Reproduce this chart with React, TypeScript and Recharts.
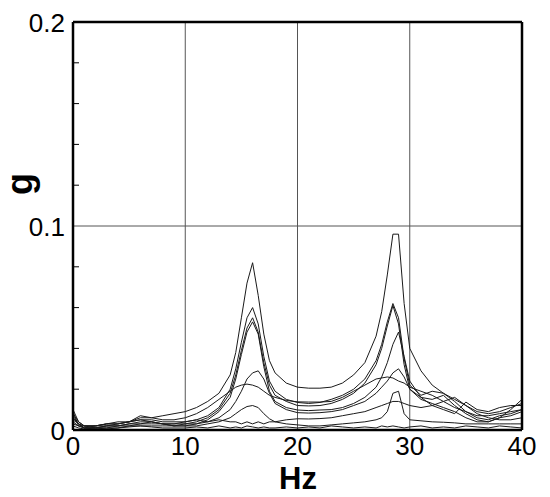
import React from 'react'
import { LineChart, Line, XAxis, YAxis, CartesianGrid, ReferenceLine } from 'recharts'

// frequency points (Hz), finer around the two peaks
const freq = [
  0, 0.5, 1, 2, 3, 4, 5, 6, 7, 8, 9, 10, 11, 12, 13, 14, 14.5, 15, 15.5, 16, 16.5, 17, 17.5, 18,
  19, 20, 21, 22, 23, 24, 25, 26, 27, 27.5, 28, 28.5, 29, 29.5, 30, 31, 32, 33, 34, 35, 36, 37, 38, 39, 40,
]

// amplitude in g for each record
const s1 = [
  0.008, 0.004, 0.002, 0.002, 0.003, 0.003, 0.004, 0.006, 0.006, 0.007, 0.008, 0.009, 0.011, 0.014, 0.018, 0.027, 0.038, 0.055, 0.072, 0.082, 0.066, 0.047, 0.034, 0.028,
  0.023, 0.021, 0.0205, 0.0205, 0.021, 0.023, 0.027, 0.033, 0.046, 0.058, 0.076, 0.096, 0.096, 0.062, 0.04, 0.029, 0.022, 0.018, 0.015, 0.012, 0.009, 0.008, 0.009, 0.011, 0.013,
]
const s2 = [
  0.006, 0.003, 0.001, 0.002, 0.002, 0.003, 0.004, 0.005, 0.005, 0.004, 0.004, 0.004, 0.005, 0.007, 0.011, 0.02, 0.03, 0.043, 0.055, 0.06, 0.052, 0.036, 0.024, 0.019,
  0.015, 0.0135, 0.013, 0.0135, 0.015, 0.017, 0.02, 0.025, 0.034, 0.042, 0.053, 0.062, 0.055, 0.035, 0.022, 0.017, 0.019, 0.018, 0.014, 0.009, 0.006, 0.005, 0.007, 0.008, 0.01,
]
const s3 = [
  0.009, 0.002, 0.002, 0.001, 0.002, 0.002, 0.003, 0.004, 0.004, 0.003, 0.003, 0.003, 0.004, 0.006, 0.01, 0.018, 0.027, 0.039, 0.05, 0.055, 0.048, 0.033, 0.022, 0.017,
  0.014, 0.012, 0.0118, 0.012, 0.013, 0.015, 0.018, 0.023, 0.032, 0.04, 0.051, 0.061, 0.052, 0.032, 0.02, 0.016, 0.015, 0.017, 0.012, 0.008, 0.005, 0.004, 0.006, 0.007, 0.009,
]
const s4 = [
  0.005, 0.003, 0.001, 0.001, 0.001, 0.002, 0.003, 0.003, 0.004, 0.003, 0.002, 0.003, 0.003, 0.005, 0.009, 0.016, 0.025, 0.037, 0.048, 0.053, 0.047, 0.031, 0.019, 0.014,
  0.011, 0.0098, 0.0095, 0.0098, 0.01, 0.011, 0.013, 0.016, 0.021, 0.026, 0.033, 0.042, 0.048, 0.036, 0.024, 0.016, 0.012, 0.014, 0.016, 0.012, 0.008, 0.006, 0.005, 0.005, 0.006,
]
const s5 = [
  0.004, 0.002, 0.001, 0.001, 0.002, 0.002, 0.002, 0.003, 0.003, 0.003, 0.002, 0.002, 0.003, 0.004, 0.006, 0.01, 0.014, 0.019, 0.025, 0.028, 0.029, 0.025, 0.018, 0.013,
  0.01, 0.0085, 0.0083, 0.0085, 0.009, 0.01, 0.012, 0.014, 0.018, 0.021, 0.024, 0.028, 0.03, 0.026, 0.02, 0.015, 0.013, 0.011, 0.009, 0.006, 0.004, 0.004, 0.006, 0.01, 0.015,
]
const s6 = [
  0.007, 0.003, 0.002, 0.002, 0.003, 0.003, 0.004, 0.007, 0.006, 0.005, 0.005, 0.006, 0.008, 0.011, 0.015, 0.019, 0.021, 0.022, 0.0225, 0.022, 0.021, 0.019, 0.017, 0.016,
  0.0145, 0.0138, 0.0137, 0.0137, 0.014, 0.016, 0.019, 0.022, 0.025, 0.0255, 0.026, 0.0255, 0.024, 0.023, 0.021, 0.019, 0.017, 0.014, 0.011, 0.009, 0.007, 0.007, 0.008, 0.009, 0.01,
]
const s7 = [
  0.003, 0.002, 0.001, 0.001, 0.001, 0.001, 0.002, 0.002, 0.002, 0.002, 0.002, 0.002, 0.002, 0.003, 0.004, 0.006, 0.008, 0.01, 0.0115, 0.012, 0.011, 0.008, 0.0055, 0.004,
  0.003, 0.0025, 0.002, 0.002, 0.0025, 0.003, 0.0035, 0.004, 0.005, 0.006, 0.009, 0.018, 0.019, 0.008, 0.005, 0.0045, 0.004, 0.0038, 0.0035, 0.003, 0.003, 0.003, 0.003, 0.003, 0.003,
]
const s8 = [
  0.002, 0.001, 0.0005, 0.001, 0.0005, 0.001, 0.0015, 0.002, 0.0015, 0.001, 0.001, 0.001, 0.0015, 0.001, 0.002, 0.001, 0.0015, 0.001, 0.002, 0.0015, 0.001, 0.0015, 0.001, 0.001,
  0.0015, 0.001, 0.0015, 0.001, 0.002, 0.0015, 0.001, 0.0015, 0.001, 0.002, 0.0015, 0.002, 0.0015, 0.001, 0.0015, 0.002, 0.001, 0.0015, 0.001, 0.002, 0.0015, 0.001, 0.002, 0.0015, 0.001,
]
const s9 = [
  0.01, 0.004, 0.002, 0.002, 0.003, 0.004, 0.004, 0.005, 0.004, 0.003, 0.003, 0.004, 0.005, 0.004, 0.005, 0.004, 0.004, 0.003, 0.004, 0.003, 0.004, 0.003, 0.004, 0.004,
  0.005, 0.0055, 0.0054, 0.0056, 0.006, 0.007, 0.008, 0.009, 0.011, 0.012, 0.013, 0.014, 0.014, 0.013, 0.012, 0.011, 0.012, 0.01, 0.008, 0.0137, 0.01, 0.009, 0.011, 0.012, 0.012,
]

const series = [s1, s2, s3, s4, s5, s6, s7, s8, s9]
const xTicks = [0, 10, 20, 30, 40]
const yTicks = [0, 0.02, 0.04, 0.06, 0.08, 0.1, 0.12, 0.14, 0.16, 0.18, 0.2]
const yLabels: Record<string, string> = { '0': '0', '0.1': '0.1', '0.2': '0.2' }

const data = freq.map((f, i) => {
  const row: Record<string, number> = { f }
  series.forEach((s, k) => { row['s' + k] = s[i] })
  return row
})

const FONT = 'Liberation Sans, Arial, sans-serif'
const PLOT_LEFT = 73

const YTick = (props: any) => {
  const { y, payload } = props
  const label = yLabels[String(payload.value)]
  return (
    <g>
      {!label && <line x1={PLOT_LEFT} x2={PLOT_LEFT + 6} y1={y} y2={y} stroke="#000" strokeWidth={1} />}
      {label && (
        <text x={PLOT_LEFT - 8} y={y + 10} textAnchor="end" fontSize={26} fontFamily={FONT} fill="#000">
          {label}
        </text>
      )}
    </g>
  )
}

const XTick = (props: any) => {
  const { x, payload } = props
  return (
    <text x={x} y={455} textAnchor="middle" fontSize={26} fontFamily={FONT} fill="#000">
      {payload.value}
    </text>
  )
}

export default function App() {
  return (
    <div style={{ position: 'absolute', left: 0, top: 0, width: 550, height: 497, background: '#fff' }}>
      <LineChart width={550} height={497} data={data} margin={{ top: 22, right: 28, left: 0, bottom: 0 }}>
        <CartesianGrid vertical={false} horizontal={false} />
        <XAxis
          dataKey="f"
          type="number"
          domain={[0, 40]}
          ticks={xTicks}
          height={67}
          tickLine={false}
          axisLine={false}
          tick={<XTick />}
          interval={0}
        />
        <YAxis
          type="number"
          domain={[0, 0.2]}
          ticks={yTicks}
          width={73}
          tickLine={false}
          axisLine={false}
          tick={<YTick />}
          interval={0}
          allowDataOverflow
        />
        {[10, 20, 30].map((v) => (
          <ReferenceLine key={'x' + v} x={v} stroke="#555" strokeWidth={1} />
        ))}
        <ReferenceLine y={0.1} stroke="#555" strokeWidth={1} />
        {series.map((_, k) => (
          <Line
            key={k}
            dataKey={'s' + k}
            type="linear"
            stroke="#1a1a1a"
            strokeWidth={1}
            dot={false}
            isAnimationActive={false}
          />
        ))}
        <ReferenceLine x={0} stroke="#000" strokeWidth={2.5} />
        <ReferenceLine x={40} stroke="#000" strokeWidth={2.5} />
        <ReferenceLine y={0} stroke="#000" strokeWidth={2.5} />
        <ReferenceLine y={0.2} stroke="#000" strokeWidth={2.5} />
      </LineChart>
      <div
        style={{
          position: 'absolute',
          left: 20,
          top: 184,
          transform: 'translate(-50%, -50%) rotate(-90deg)',
          fontFamily: FONT,
          fontWeight: 'bold',
          fontSize: 36,
          lineHeight: 1,
        }}
      >
        g
      </div>
      <div
        style={{
          position: 'absolute',
          left: 298,
          top: 479,
          transform: 'translate(-50%, -50%)',
          fontFamily: FONT,
          fontWeight: 'bold',
          fontSize: 31,
          lineHeight: 0.75,
        }}
      >
        Hz
      </div>
    </div>
  )
}
